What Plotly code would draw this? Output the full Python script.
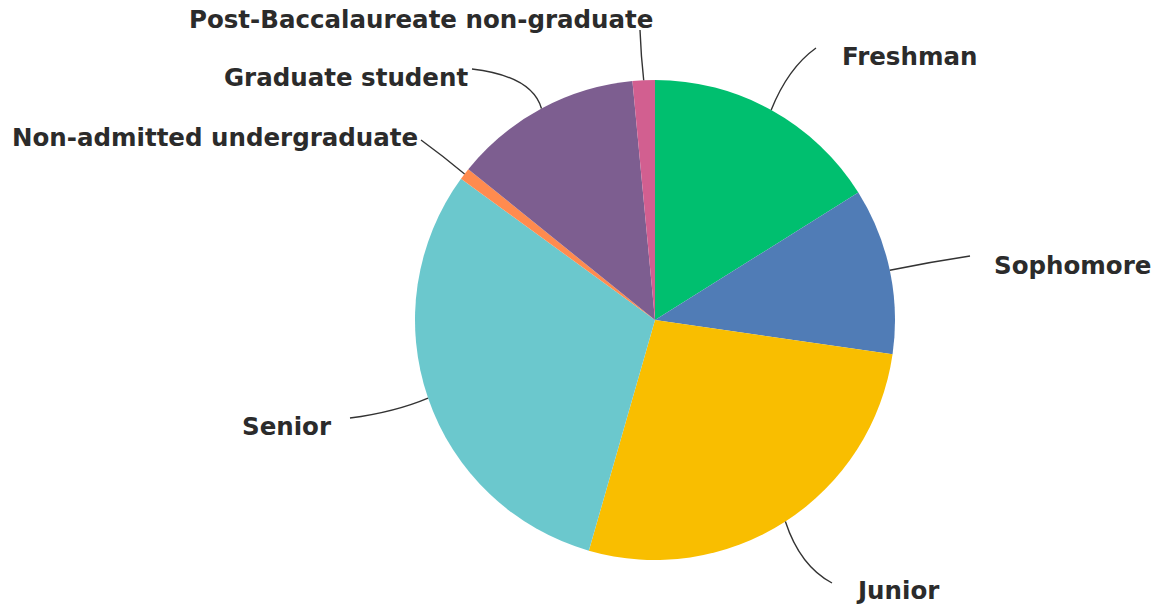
import math
import plotly.graph_objects as go

labels = ["Freshman", "Sophomore", "Junior", "Senior",
          "Non-admitted undergraduate", "Graduate student",
          "Post-Baccalaureate non-graduate"]
values = [16.1, 11.2, 27.2, 30.6, 0.8, 12.7, 1.5]
colors = ["#00BF6F", "#507CB6", "#F9BE00", "#6BC8CD",
          "#FF8B4F", "#7D5E90", "#D25F90"]

W, H = 1156, 604
CX, CY, R = 655, 320, 240  # target page pixels

label_style = {
    "Freshman": dict(end=(816, 48), ctrl=(788, 68), text=(841, 56), xanchor="left"),
    "Sophomore": dict(end=(970, 256), ctrl=(930, 262), text=(993, 265), xanchor="left"),
    "Junior": dict(end=(832, 583), ctrl=(800, 566), text=(855, 590), xanchor="left"),
    "Senior": dict(end=(350, 418), ctrl=(395, 412), text=(333, 426), xanchor="right"),
    "Non-admitted undergraduate": dict(end=(421, 140), ctrl=(443, 156), text=(419, 138), xanchor="right"),
    "Graduate student": dict(end=(472, 69), ctrl=(532, 76), text=(469, 77), xanchor="right"),
    "Post-Baccalaureate non-graduate": dict(end=(640, 30), ctrl=(641, 56), text=(421, 20), xanchor="center"),
}

def px(x):
    return x / W

def py(y):
    return 1 - y / H

fig = go.Figure()
fig.add_trace(go.Pie(
    labels=labels, values=values, sort=False, direction="clockwise",
    rotation=0, textinfo="none", hoverinfo="label+percent",
    marker=dict(colors=colors, line=dict(width=0)),
    domain=dict(x=[px(CX - R), px(CX + R)], y=[py(CY + R), py(CY - R)]),
    showlegend=False,
))

total = sum(values)
cum = 0
shapes = []
annotations = []
for lab, v in zip(labels, values):
    mid = (cum + v / 2) / total * 2 * math.pi
    cum += v
    sx = CX + R * math.sin(mid)
    sy = CY - R * math.cos(mid)
    st = label_style[lab]
    ex, ey = st["end"]
    cx, cy = st["ctrl"]
    path = "M {:.5f},{:.5f} Q {:.5f},{:.5f} {:.5f},{:.5f}".format(
        px(sx), py(sy), px(cx), py(cy), px(ex), py(ey))
    shapes.append(dict(type="path", path=path, xref="paper", yref="paper",
                       line=dict(color="#333333", width=1.4)))
    tx, ty = st["text"]
    annotations.append(dict(
        x=px(tx), y=py(ty), xref="paper", yref="paper", text=lab,
        showarrow=False, xanchor=st["xanchor"], yanchor="middle", borderpad=0,
        font=dict(family="DejaVu Sans", size=24.5, color="#2b2b2b", weight="bold"),
    ))

fig.update_layout(
    width=W, height=H, margin=dict(l=0, r=0, t=0, b=0),
    paper_bgcolor="white", plot_bgcolor="white",
    shapes=shapes, annotations=annotations,
)
fig.write_html("out.html", config={"displayModeBar": False},
               post_script="document.body.style.margin='0';document.body.style.overflow='hidden';")
